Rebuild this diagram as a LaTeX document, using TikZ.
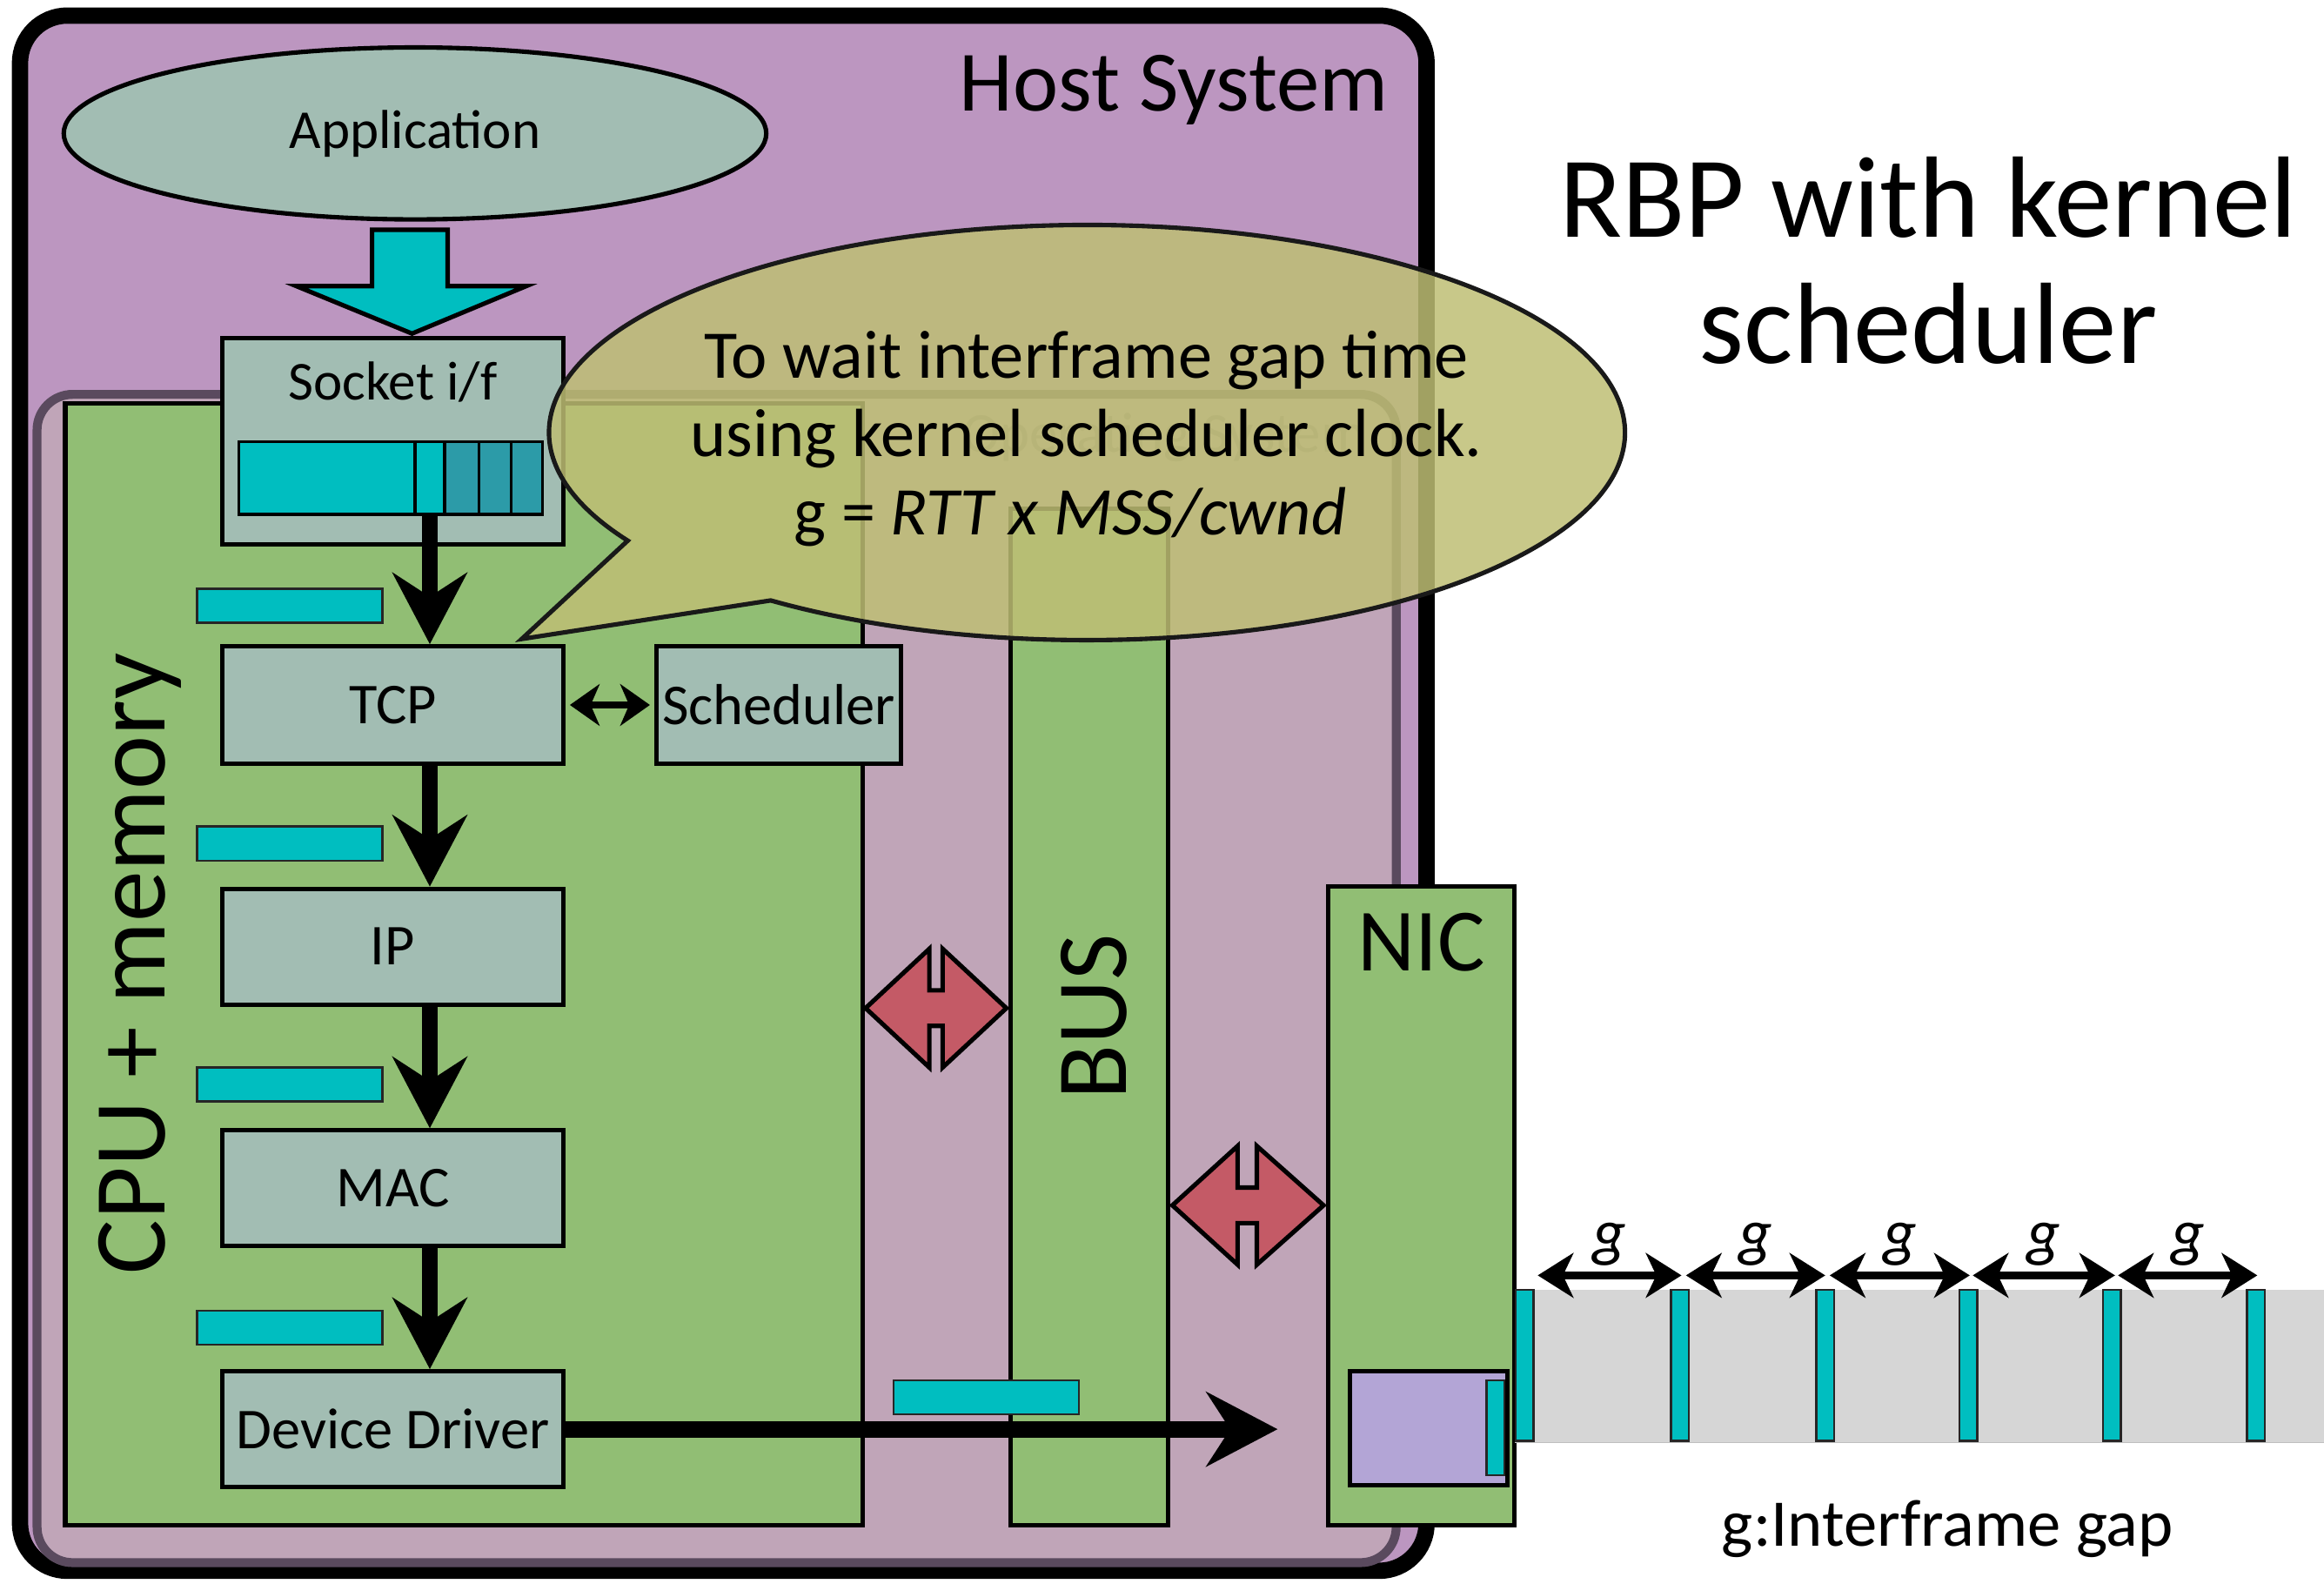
\documentclass[tikz,border=0pt]{standalone}
\usepackage{fontspec}
\setmainfont{Carlito}
\usetikzlibrary{shapes.geometric,arrows.meta}

\definecolor{hostpurple}{RGB}{188,150,192}
\definecolor{ospurple}{RGB}{192,165,184}
\definecolor{osborder}{RGB}{90,74,94}
\definecolor{cpugreen}{RGB}{145,190,116}
\definecolor{boxgrey}{RGB}{162,189,179}
\definecolor{pktcyan}{RGB}{0,190,192}
\definecolor{pktdark}{RGB}{44,155,168}
\definecolor{busred}{RGB}{196,90,102}
\definecolor{bufviolet}{RGB}{179,165,214}
\definecolor{linkgrey}{RGB}{214,214,214}
\definecolor{bubblecol}{RGB}{190,190,116}

\newcommand\fsz[1]{\fontsize{#1}{#1}\selectfont}

\begin{document}
\begin{tikzpicture}[x=1pt,y=-1pt,
  layerbox/.style={draw, line width=3pt, fill=boxgrey, minimum width=230pt, minimum height=79pt, inner sep=0pt, font=\fsz{39}},
  panel/.style={draw, line width=3pt, fill=cpugreen, inner sep=0pt},
  pkt/.style={draw=black!85, line width=1.5pt, fill=pktcyan, inner sep=0pt, minimum width=125pt, minimum height=23pt},
  frame/.style={draw=black!85, line width=1.5pt, fill=pktcyan, inner sep=0pt, minimum width=12pt, minimum height=102pt},
  flow/.style={line width=11pt, -{Stealth[length=48pt,width=50pt,inset=16pt]}},
  gaparr/.style={line width=5pt, {Stealth[length=24pt,width=30pt,inset=7pt]}-{Stealth[length=24pt,width=30pt,inset=7pt]}},
  glabel/.style={midway, anchor=base, yshift=14pt, font=\fsz{44}\itshape},
  busarrow/.style={draw, line width=3pt, fill=busred, line join=miter}
]
\useasboundingbox (0,0) rectangle (1568,1068);

% Host system
\node[draw=black, line width=11pt, rounded corners=32pt, fill=hostpurple, minimum width=949pt, minimum height=1049pt, inner sep=0pt] (host) at (488,535) {};
\node[anchor=base east, font=\fsz{58}] (hostlbl) at (940,75) {Host System};

% Operating system container
\node[draw=osborder, line width=6pt, rounded corners=24pt, fill=ospurple, minimum width=917pt, minimum height=788pt, inner sep=0pt] (os) at (483.5,660) {};
\node[anchor=base east, font=\fsz{38}, text=osborder, text opacity=0.45] (oslbl) at (925,305) {Operating System};

% CPU + memory
\node[panel, minimum width=538pt, minimum height=757pt] (cpu) at (313,650.5) {};
\node[rotate=90, anchor=base, font=\fsz{69}] (cpulbl) at (111,650) {CPU + memory};

% BUS
\node[panel, minimum width=106pt, minimum height=686pt] (bus) at (735,686) {};
\node[rotate=90, anchor=base, font=\fsz{68}] (buslbl) at (760,686) {BUS};

% bus connectors
\draw[busarrow] (584,680) -- (627,640) -- (627,668) -- (636,668) -- (636,640) -- (679,680) -- (636,720) -- (636,692) -- (627,692) -- (627,720) -- cycle;
\draw[busarrow] (791,813) -- (835,773) -- (835,801) -- (848,801) -- (848,773) -- (893,813) -- (848,853) -- (848,825) -- (835,825) -- (835,853) -- cycle;

% Application
\node[ellipse, draw, line width=3pt, fill=boxgrey, minimum width=474pt, minimum height=116pt, inner sep=0pt, font=\fsz{37}] (app) at (280,90) {Application};
\draw[line width=3pt, fill=pktcyan, line join=miter] (251,155) -- (302,155) -- (302,193) -- (355,193) -- (278,225) -- (200,193) -- (251,193) -- cycle;

% Socket
\node[layerbox, minimum height=139pt] (sock) at (265,297.5) {};
\node[anchor=base, font=\fsz{37}] (socklbl) at (265,270) {Socket i/f};
\node[draw, line width=2pt, fill=pktcyan, minimum width=205pt, minimum height=49pt, inner sep=0pt] (buf) at (263.5,322.5) {};
\draw[line width=2pt, fill=pktdark] (300,298) rectangle (366,347);
\draw[line width=2pt] (280,298) -- (280,347) (323,298) -- (323,347) (345,298) -- (345,347);

% protocol stack
\node[layerbox] (tcp) at (265,475.5) {TCP};
\node[layerbox, minimum width=165pt] (sched) at (525.5,475.5) {Scheduler};
\node[layerbox, minimum height=78pt] (ip) at (265,638.5) {IP};
\node[layerbox, minimum height=78pt] (mac) at (265,801.5) {MAC};
\node[layerbox, minimum height=78pt] (dd) at (265,964) {Device Driver};

% packets beside the stack
\node[pkt] (p1) at (195.5,408.5) {};
\node[pkt] (p2) at (195.5,569) {};
\node[pkt] (p3) at (195.5,731.5) {};
\node[pkt] (p4) at (195.5,895.5) {};
\node[pkt] (p5) at (665.5,942.5) {};

% flow arrows
\draw[flow] ([xshift=26.5pt]buf.south) -- ([xshift=25pt]tcp.north);
\draw[flow] ([xshift=25pt]tcp.south) -- ([xshift=25pt]ip.north);
\draw[flow] ([xshift=25pt]ip.south) -- ([xshift=25pt]mac.north);
\draw[flow] ([xshift=25pt]mac.south) -- ([xshift=25pt]dd.north);
\draw[line width=5pt, {Stealth[length=20pt,width=28pt,inset=6pt]}-{Stealth[length=20pt,width=28pt,inset=6pt]}, shorten <=3pt, shorten >=3pt] (tcp.east) -- (sched.west);

% NIC
\node[panel, minimum width=126pt, minimum height=431pt] (nic) at (959,813.5) {};
\node[anchor=base, font=\fsz{60}] (niclbl) at (959,655) {NIC};
\node[draw, line width=3pt, fill=bufviolet, minimum width=106pt, minimum height=77pt, inner sep=0pt] (nicbuf) at (964,963.5) {};
\node[draw=black!85, line width=1.5pt, fill=pktcyan, minimum width=12pt, minimum height=64pt, inner sep=0pt] (nicpkt) at (1009,963) {};

\coordinate (ddtip) at (862,964);
\draw[flow] (dd.east) -- (ddtip);

% link
\fill[linkgrey] (1022,870) rectangle (1568,973);
\draw[black!25, line width=1pt] (1022,973) -- (1568,973);
\node[frame] (f0) at (1028.5,921) {};
\node[frame] (f1) at (1133.5,921) {};
\node[frame] (f2) at (1231.5,921) {};
\node[frame] (f3) at (1328,921) {};
\node[frame] (f4) at (1425,921) {};
\node[frame] (f5) at (1522,921) {};
\draw[gaparr] ([xshift=9pt,yshift=9pt]f0.north) -- ([xshift=1pt,yshift=9pt]f1.north) node[glabel] {g};
\draw[gaparr] ([xshift=4pt,yshift=9pt]f1.north) -- ([xshift=0pt,yshift=9pt]f2.north) node[glabel] {g};
\draw[gaparr] ([xshift=3pt,yshift=9pt]f2.north) -- ([xshift=1pt,yshift=9pt]f3.north) node[glabel] {g};
\draw[gaparr] ([xshift=3pt,yshift=9pt]f3.north) -- ([xshift=2pt,yshift=9pt]f4.north) node[glabel] {g};
\draw[gaparr] ([xshift=4pt,yshift=9pt]f4.north) -- ([xshift=1pt,yshift=9pt]f5.north) node[glabel] {g};
\node[anchor=base, font=\fsz{45}] (gaplbl) at (1314,1043) {g:Interframe gap};

% title
\node[anchor=base, font=\fsz{78}] (title1) at (1301,160) {RBP with kernel};
\node[anchor=base, font=\fsz{78}] (title2) at (1301,245) {scheduler};

% speech bubble
\filldraw[fill=bubblecol, fill opacity=0.85, draw=black!90, line width=3pt, line join=miter] (520,405) arc[start angle=234, end angle=571.4, x radius=363pt, y radius=140pt] -- (352,431) -- cycle;
\node[anchor=base, font=\fsz{46}] (b1) at (733,255) {To wait interframe gap time};
\node[anchor=base, font=\fsz{46}] (b2) at (733,308) {using kernel scheduler clock.};
\node[anchor=base, font=\fsz{46}] (b3) at (722,361) {g = \textit{RTT x MSS/cwnd}};
\end{tikzpicture}
\end{document}
